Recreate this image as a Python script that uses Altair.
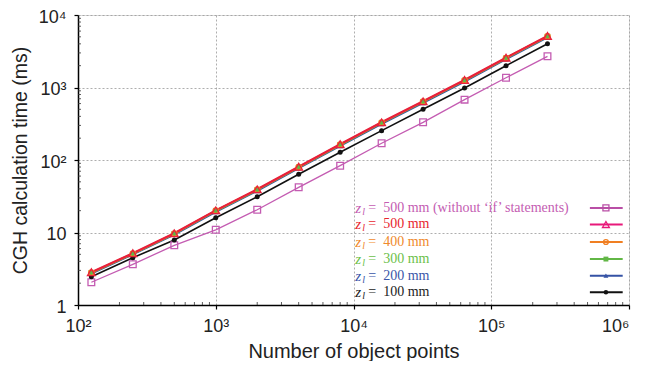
import altair as alt
import pandas as pd

# ---------------- data ----------------
n_points = [125, 250, 500, 1000, 2000, 4000, 8000, 16000, 32000, 64000, 128000, 256000]

t_500_noif = [2.06, 3.64, 6.66, 10.9, 20.6, 42.0, 83.5, 170, 331, 680, 1365, 2693]
t_500 = [2.83, 5.17, 9.75, 20.2, 39.4, 80.9, 165, 331, 645, 1270, 2580, 5130]
t_400 = [2.80, 5.12, 9.65, 20.0, 39.0, 80.0, 163, 327, 638, 1255, 2550, 5080]
t_300 = [2.78, 5.08, 9.58, 19.8, 38.6, 79.2, 161, 324, 632, 1245, 2530, 5040]
t_200 = [2.72, 4.98, 9.35, 19.3, 37.6, 77.0, 157, 315, 615, 1210, 2460, 4900]
t_100 = [2.46, 4.49, 7.88, 16.0, 31.2, 63.5, 128, 254, 500, 984, 2000, 4020]

NB = "\u00a0"
series_labels = ["=" + NB * 2 + "500 mm (without \u2018if\u2019 statements)",
                 "=" + NB * 2 + "500 mm", "=" + NB * 2 + "400 mm",
                 "=" + NB * 2 + "300 mm", "=" + NB * 2 + "200 mm", "=" + NB * 2 + "100 mm"]
series_values = [t_500_noif, t_500, t_400, t_300, t_200, t_100]
line_colors = ["#c45cb2", "#e8203c", "#f07f22", "#62b746", "#3552a5", "#111111"]
legend_line_colors = ["#b94fa6", "#e8197a", "#f07f22", "#62b746", "#3552a5", "#111111"]
text_colors = ["#c45cb2", "#e8262e", "#f08a2c", "#6cbf4a", "#3a56a8", "#222222"]
shapes = ["square", "triangle-up", "circle", "square", "triangle-up", "circle"]
filled = [False, False, False, True, True, True]
line_widths = [1.3, 2.2, 2.0, 2.0, 2.0, 1.6]
marker_sizes = [45, 60, 30, 30, 30, 25]

x_major = [100, 1000, 10000, 100000, 1000000]
y_major = [1, 10, 100, 1000, 10000]
x_minor = [m * d for d in [100, 1000, 10000, 100000] for m in range(2, 10)]
y_minor = [m * d for d in [1, 10, 100, 1000] for m in range(2, 10)]

# legend placement (in data units)
legend_y = [21.8, 12.9, 7.4, 4.3, 2.54, 1.50]
legend_text_x = 10300
legend_line_x = [520000, 900000]
legend_marker_x = 680000

W, H = 551, 290

x_label_expr = ("datum.value == 100 ? '10\u00b2' : datum.value == 1000 ? '10\u00b3' : "
                "datum.value == 10000 ? '10\u2074' : datum.value == 100000 ? '10\u2075' : '10\u2076'")
y_label_expr = ("datum.value == 1 ? '1' : datum.value == 10 ? '10' : datum.value == 100 ? '10\u00b2' : "
                "datum.value == 1000 ? '10\u00b3' : '10\u2074'")

xscale = alt.Scale(type="log", domain=[100, 1000000], nice=False)
yscale = alt.Scale(type="log", domain=[1, 10000], nice=False)

x_axis = alt.Axis(values=x_major, labelExpr=x_label_expr, title="Number of object points",
                  grid=True, gridColor="#999999", gridDash=[2, 2], gridWidth=0.8,
                  tickSize=4, tickColor="#000", tickWidth=1.2,
                  domainColor="#000", domainWidth=1.5,
                  labelFont="Liberation Sans", labelFontSize=18, labelColor="#222",
                  labelAlign={"condition": {"test": "datum.value >= 1000000", "value": "right"},
                              "value": "center"},
                  labelPadding=8, labelFlush=False, labelOverlap=False,
                  titleFont="Liberation Sans", titleFontSize=20, titleFontWeight="normal",
                  titleColor="#222", titlePadding=6)
y_axis = alt.Axis(values=y_major, labelExpr=y_label_expr, title="CGH calculation time (ms)",
                  grid=True, gridColor="#999999", gridDash=[2, 2], gridWidth=0.8,
                  tickSize=4, tickColor="#000", tickWidth=1.2,
                  domainColor="#000", domainWidth=1.5,
                  labelFont="Liberation Sans", labelFontSize=18, labelColor="#222",
                  labelPadding=8, labelFlush=False, labelOverlap=False, labelOffset=2,
                  titleFont="Liberation Sans", titleFontSize=19.5, titleFontWeight="normal",
                  titleColor="#222", titlePadding=8)


def X(field):
    return alt.X(field, type="quantitative", scale=xscale, axis=x_axis)


def Y(field):
    return alt.Y(field, type="quantitative", scale=yscale, axis=y_axis)


layers = []

# minor ticks (inside)
minor_x_df = pd.DataFrame({"x": x_minor})
minor_y_df = pd.DataFrame({"y": y_minor})
layers.append(alt.Chart(minor_x_df).mark_rule(color="#333", strokeWidth=0.8).encode(
    x=X("x"), y=alt.value(H), y2=alt.value(H - 3)))
layers.append(alt.Chart(minor_y_df).mark_rule(color="#333", strokeWidth=0.8).encode(
    y=Y("y"), x=alt.value(0), x2=alt.value(3)))

# series lines (draw pink, black, blue, green, orange, red)
draw_order = [0, 5, 4, 3, 2, 1]
for i in draw_order:
    df = pd.DataFrame({"n": n_points, "t": series_values[i]})
    layers.append(alt.Chart(df).mark_line(color=line_colors[i], strokeWidth=line_widths[i]).encode(
        x=X("n"), y=Y("t")))

# markers (red open triangles last so green shows inside)
for i in draw_order:
    df = pd.DataFrame({"n": n_points, "t": series_values[i]})
    layers.append(alt.Chart(df).mark_point(
        shape=shapes[i], filled=filled[i], size=marker_sizes[i], color=line_colors[i],
        strokeWidth=1.3, opacity=1).encode(x=X("n"), y=Y("t")))

# ---------- legend ----------
leg = pd.DataFrame({
    "y": legend_y, "label": series_labels, "tcol": text_colors, "lcol": legend_line_colors,
    "tx": [legend_text_x] * 6, "lx1": [legend_line_x[0]] * 6, "lx2": [legend_line_x[1]] * 6,
    "mx": [legend_marker_x] * 6,
})
layers.append(alt.Chart(leg).mark_text(align="left", baseline="middle", font="Liberation Serif",
                                       fontSize=15, fontStyle="italic").encode(
    x=X("tx"), y=Y("y"), text=alt.value("z"), color=alt.Color("tcol:N", scale=None)))
layers.append(alt.Chart(leg).mark_text(align="left", baseline="middle", font="Liberation Serif",
                                       fontSize=10, fontStyle="italic", dx=7, dy=4).encode(
    x=X("tx"), y=Y("y"), text=alt.value("l"), color=alt.Color("tcol:N", scale=None)))
layers.append(alt.Chart(leg).mark_text(align="left", baseline="middle", font="Liberation Serif",
                                       fontSize=14, dx=13).encode(
    x=X("tx"), y=Y("y"), text="label:N", color=alt.Color("tcol:N", scale=None)))
layers.append(alt.Chart(leg).mark_rule(strokeWidth=2).encode(
    x=X("lx1"), x2="lx2:Q", y=Y("y"), color=alt.Color("lcol:N", scale=None)))
for i in range(6):
    sub = leg.iloc[[i]]
    layers.append(alt.Chart(sub).mark_point(
        shape=shapes[i], filled=filled[i], size=marker_sizes[i] * 0.8, color=legend_line_colors[i],
        strokeWidth=1.3, opacity=1).encode(x=X("mx"), y=Y("y")))

chart = alt.layer(*layers).properties(
    width=W, height=H,
    autosize=alt.AutoSizeParams(type="none"),
    padding={"left": 70, "top": 7, "right": 10, "bottom": 56}
).configure_view(stroke="#8c8c8c", strokeWidth=1.5).configure(background="white")

chart.save("out.html", embed_options={"renderer": "svg", "actions": False})
